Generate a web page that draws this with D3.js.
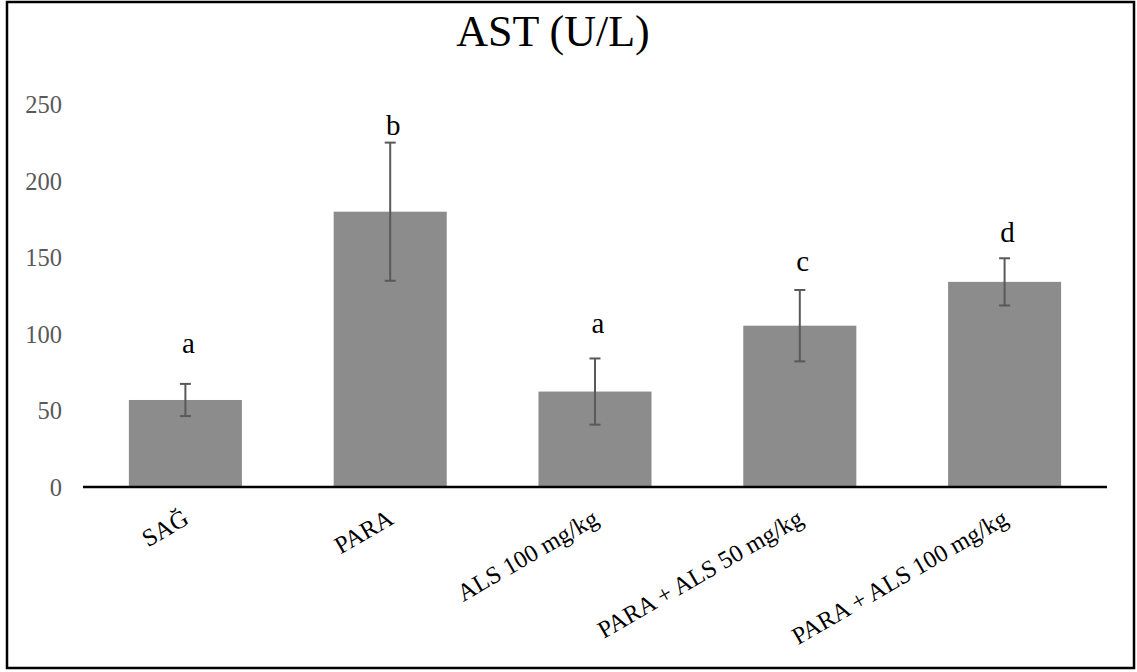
<!DOCTYPE html>
<html>
<head>
<meta charset="utf-8">
<script src="https://cdn.jsdelivr.net/npm/d3@7"></script>
<style>
  body { margin: 0; background: #fff; }
  svg { display: block; font-family: "Liberation Serif", "Times New Roman", serif; }
</style>
</head>
<body>
<svg id="chart"></svg>
<script>
// AST values per group (mean and error)
const groups = ["SAĞ", "PARA", "ALS 100 mg/kg", "PARA + ALS 50 mg/kg", "PARA + ALS 100 mg/kg"];
const means = [56.8, 179.7, 62.3, 105.3, 133.9];
const errors = [10.5, 45.1, 21.6, 23.3, 15.4];
// significance letters and the level (in U/L) where each one sits
const letters = ["a", "b", "a", "c", "d"];
const letterLevels = [87.5, 229.8, 100.5, 141, 160];
const yTicks = [0, 50, 100, 150, 200, 250];

const width = 1137;
const height = 672;

const svg = d3.select("#chart")
    .attr("width", width)
    .attr("height", height);

// outer frame
svg.append("rect")
    .attr("x", 7).attr("y", 2)
    .attr("width", 1127).attr("height", 666)
    .attr("fill", "none")
    .attr("stroke", "#000")
    .attr("stroke-width", 2.5);

const x = d3.scaleBand()
    .domain(groups)
    .range([83, 1107])
    .paddingInner(0.448)
    .paddingOuter(0.224);

const y = d3.scaleLinear()
    .domain([0, 250])
    .range([487, 104]);

// title
svg.append("text")
    .attr("x", 553)
    .attr("y", 46)
    .attr("text-anchor", "middle")
    .attr("font-size", 44)
    .attr("fill", "#000")
    .text("AST (U/L)");

// y axis (labels only)
const yAxis = svg.append("g")
    .attr("transform", "translate(62,0)")
    .call(d3.axisLeft(y).tickValues(yTicks).tickSize(0).tickPadding(0));
yAxis.select(".domain").remove();
yAxis.selectAll("text")
    .attr("font-family", "Liberation Serif, Times New Roman, serif")
    .attr("font-size", 24.5)
    .attr("fill", "#595959")
    .attr("dy", "0.35em");

// bars
svg.append("g")
    .selectAll("rect")
    .data(groups)
    .enter().append("rect")
    .attr("x", d => x(d))
    .attr("width", x.bandwidth())
    .attr("y", (d, i) => y(means[i]))
    .attr("height", (d, i) => y(0) - y(means[i]))
    .attr("fill", "#8c8c8c");

// error bars
const err = svg.append("g")
    .attr("stroke", "#595959")
    .attr("stroke-width", 2);
groups.forEach((g, i) => {
    const cx = x(g) + x.bandwidth() / 2;
    const top = y(means[i] + errors[i]);
    const bot = y(means[i] - errors[i]);
    err.append("line").attr("x1", cx).attr("x2", cx).attr("y1", top).attr("y2", bot);
    err.append("line").attr("x1", cx - 5.5).attr("x2", cx + 5.5).attr("y1", top).attr("y2", top);
    err.append("line").attr("x1", cx - 5.5).attr("x2", cx + 5.5).attr("y1", bot).attr("y2", bot);
});

// letters
svg.append("g")
    .selectAll("text")
    .data(groups)
    .enter().append("text")
    .attr("x", d => x(d) + x.bandwidth() / 2 + 3)
    .attr("y", (d, i) => y(letterLevels[i]))
    .attr("text-anchor", "middle")
    .attr("font-size", 29)
    .attr("fill", "#000")
    .text((d, i) => letters[i]);

// x axis line
svg.append("line")
    .attr("x1", 83).attr("x2", 1107)
    .attr("y1", y(0)).attr("y2", y(0))
    .attr("stroke", "#000")
    .attr("stroke-width", 2.5);

// rotated category labels
svg.append("g")
    .selectAll("text")
    .data(groups)
    .enter().append("text")
    .attr("transform", d => `translate(${x(d) + x.bandwidth() / 2 + 5},${y(0) + 36}) rotate(-30)`)
    .attr("text-anchor", "end")
    .attr("font-size", 24.5)
    .attr("fill", "#000")
    .text(d => d);
</script>
</body>
</html>
